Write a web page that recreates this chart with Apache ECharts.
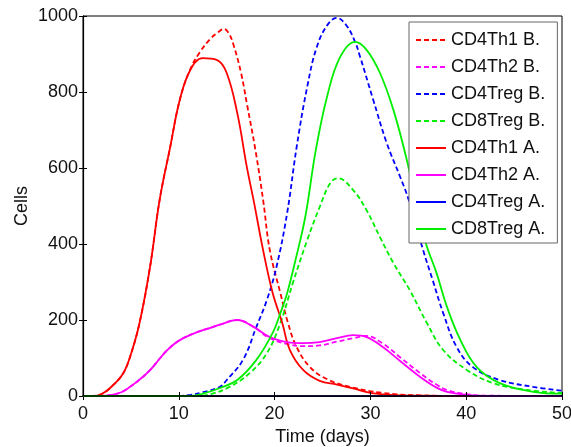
<!DOCTYPE html>
<html>
<head>
<meta charset="utf-8">
<script src="https://cdn.jsdelivr.net/npm/echarts@6/dist/echarts.min.js"></script>
<style>html,body{margin:0;padding:0;background:#fff}#c{width:571px;height:447px}</style>
</head>
<body>
<div id="c"></div>
<script>
// Data (time in days, cells)
var th1A_t = [0, 1, 2, 3, 4.2, 5, 5.9, 7.0, 8.0, 9.1, 10.1, 11.2, 12.5, 14.0, 15.0, 16.1, 17.1, 17.8, 18.8, 19.8, 20.8, 21.6, 23.0, 24.7, 26.5, 28.2, 30, 32, 35, 40, 50];
var th1A_v = [0, 0, 6, 25, 60, 110, 192, 340, 516, 655, 779, 858, 889, 884, 850, 745, 603, 516, 384, 271, 192, 121, 68, 40, 30, 20, 8, 3, 1, 0, 0];

var th1B_t = [0, 1, 2, 3, 4.2, 5, 5.9, 7.0, 8.0, 9.1, 10.1, 11.2, 12.2, 13.3, 14.0, 14.7, 15.2, 15.7, 16.5, 17.1, 18.0, 18.8, 19.5, 20.6, 21.4, 22.3, 23.7, 25.5, 27.9, 31.3, 35, 40, 50];
var th1B_v = [0, 0, 6, 25, 60, 110, 192, 340, 516, 655, 779, 860, 905, 940, 955, 966, 955, 925, 850, 770, 647, 516, 384, 271, 192, 129, 76, 44, 24, 8, 2, 0, 0];

var th2A_t = [0, 2, 3, 4, 4.9, 6, 7.0, 8.0, 8.8, 10.1, 11.9, 13.6, 14.3, 16.1, 17.8, 19.5, 21.3, 23.0, 24.7, 26.5, 28.2, 29.6, 31.3, 33.2, 35.2, 36.9, 38, 40, 42, 50];
var th2A_v = [0, 0, 3, 10, 24, 45, 68, 98, 121, 147, 168, 182, 188, 200, 182, 155, 142, 139, 142, 152, 160, 155, 129, 90, 50, 22, 11, 3, 0, 0];

var th2B_t = [0, 2, 3, 4, 4.9, 6, 7.0, 8.0, 8.8, 10.1, 11.9, 13.6, 14.3, 16.1, 17.8, 19.5, 21.3, 23.0, 24.7, 26.5, 28.2, 29.6, 31.3, 33.2, 35.2, 36.9, 38, 40, 42, 50];
var th2B_v = [0, 0, 3, 10, 24, 45, 68, 98, 121, 147, 168, 182, 188, 200, 182, 152, 137, 131, 133, 143, 152, 158, 138, 100, 60, 30, 16, 5, 1, 0];

var tregA_t = [0, 50];
var tregA_v = [0, 0];

var tregB_t = [0, 10, 11.2, 12.5, 14.3, 15.0, 16.7, 18.1, 19.2, 20.2, 21.3, 22.3, 23.4, 24.4, 25.5, 26.5, 27.5, 28.4, 28.9, 30.3, 31.7, 33.1, 34.0, 35.5, 36.5, 37.6, 39.0, 40.7, 43.5, 47, 50];
var tregB_v = [0, 0, 3, 10, 24, 42, 95, 182, 253, 340, 480, 655, 813, 918, 976, 995, 975, 932, 895, 779, 666, 577, 516, 384, 305, 218, 129, 76, 42, 24, 14];

var cd8A_t = [0, 11, 12.5, 14.3, 16.1, 18.1, 19.8, 20.6, 21.3, 22.2, 23.2, 24.3, 25.5, 26.8, 28.4, 29.6, 31.0, 32.4, 33.8, 35.7, 36.9, 38.0, 39.4, 41.1, 43.5, 47, 50];
var cd8A_v = [0, 0, 6, 21, 42, 95, 166, 218, 270, 360, 471, 647, 790, 890, 932, 911, 850, 753, 621, 410, 324, 234, 147, 76, 34, 11, 6];

var cd8B_t = [0, 12, 13.5, 15.3, 17.4, 19.2, 20.6, 21.9, 23.4, 24.7, 25.8, 26.6, 28.2, 29.6, 31.0, 32.4, 34.1, 35.9, 37.6, 40.1, 42.8, 46.3, 50];
var cd8B_v = [0, 0, 6, 24, 60, 113, 192, 297, 410, 497, 560, 573, 542, 489, 418, 350, 279, 192, 121, 68, 34, 16, 8];

var xTicks = [0, 10, 20, 30, 40, 50];
var yTicks = [0, 200, 400, 600, 800, 1000];

function pairs(t, v) { return t.map(function (x, i) { return [x, v[i]]; }); }

var FONT = 'Liberation Sans, Arial, Helvetica, sans-serif';
var RED = '#ff0000', MAG = '#ff00ff', BLUE = '#0000ff', GREEN = '#00ee00';
var FS = 18;

function line(name, color, dashed, t, v, width) {
  return {
    name: name, type: 'line', data: pairs(t, v), symbol: 'none',
    smooth: 0.4,
    lineStyle: { color: color, width: width || 1.8, type: dashed ? [5, 3] : 'solid' },
    itemStyle: { color: color }
  };
}

var chart = echarts.init(document.getElementById('c'), null, { renderer: 'canvas' });
chart.setOption({
  animation: false,
  backgroundColor: '#ffffff',
  textStyle: { fontFamily: FONT },
  grid: { left: 83, right: 9, top: 16, bottom: 51, show: true, borderColor: '#000', borderWidth: 1,
    containLabel: false, outerBoundsMode: 'none' },
  legend: {
    orient: 'vertical', left: 409, top: 22,
    padding: [9, 12, 5, 6],
    itemWidth: 30, itemHeight: 18, itemGap: 9,
    itemStyle: { opacity: 0 },
    backgroundColor: '#ffffff', borderColor: '#666', borderWidth: 1,
    textStyle: { fontSize: FS, color: '#111', fontFamily: FONT },
    data: ['CD4Th1 B.', 'CD4Th2 B.', 'CD4Treg B.', 'CD8Treg B.', 'CD4Th1 A.', 'CD4Th2 A.', 'CD4Treg A.', 'CD8Treg A.']
  },
  xAxis: [{
    type: 'value', min: 0, max: 50, interval: 10, position: 'bottom', z: 5,
    name: 'Time (days)', nameLocation: 'middle', nameGap: 32, nameMoveOverlap: false,
    nameTextStyle: { fontSize: FS, color: '#111', fontFamily: FONT },
    axisLine: { lineStyle: { color: '#000', width: 1.6 } },
    axisTick: { inside: true, length: 4, lineStyle: { color: '#000' } },
    axisLabel: { fontSize: FS, color: '#111', margin: 9, fontFamily: FONT,
      formatter: function (v) { return xTicks.indexOf(v) >= 0 ? String(v) : ''; } },
    splitLine: { show: false }
  }, {
    type: 'value', min: 0, max: 50, interval: 10, position: 'top',
    axisLine: { lineStyle: { color: '#000' } },
    axisTick: { inside: true, length: 4, lineStyle: { color: '#000' } },
    axisLabel: { show: false }, splitLine: { show: false }
  }],
  yAxis: [{
    type: 'value', min: 0, max: 1000, interval: 200, position: 'left',
    name: 'Cells', nameLocation: 'middle', nameGap: 52, nameMoveOverlap: false,
    nameTextStyle: { fontSize: FS, color: '#111', fontFamily: FONT },
    axisLine: { show: true, lineStyle: { color: '#000', width: 1.2 } },
    axisTick: { show: true, inside: true, length: 4, lineStyle: { color: '#000' } },
    axisLabel: { fontSize: FS, color: '#111', margin: 5, fontFamily: FONT,
      formatter: function (v) { return yTicks.indexOf(v) >= 0 ? String(v) : ''; } },
    splitLine: { show: false }
  }, {
    type: 'value', min: 0, max: 1000, interval: 200, position: 'right',
    axisLine: { show: true, lineStyle: { color: '#000' } },
    axisTick: { show: true, inside: true, length: 4, lineStyle: { color: '#000' } },
    axisLabel: { show: false }, splitLine: { show: false }
  }],
  series: [
    line('CD4Th1 B.', RED, true, th1B_t, th1B_v),
    line('CD4Th2 B.', MAG, true, th2B_t, th2B_v),
    line('CD4Treg B.', BLUE, true, tregB_t, tregB_v),
    line('CD8Treg B.', GREEN, true, cd8B_t, cd8B_v),
    line('CD4Th1 A.', RED, false, th1A_t, th1A_v),
    line('CD4Th2 A.', MAG, false, th2A_t, th2A_v),
    line('CD4Treg A.', BLUE, false, tregA_t, tregA_v, 1.0),
    line('CD8Treg A.', GREEN, false, cd8A_t, cd8A_v)
  ]
});
</script>
</body>
</html>
